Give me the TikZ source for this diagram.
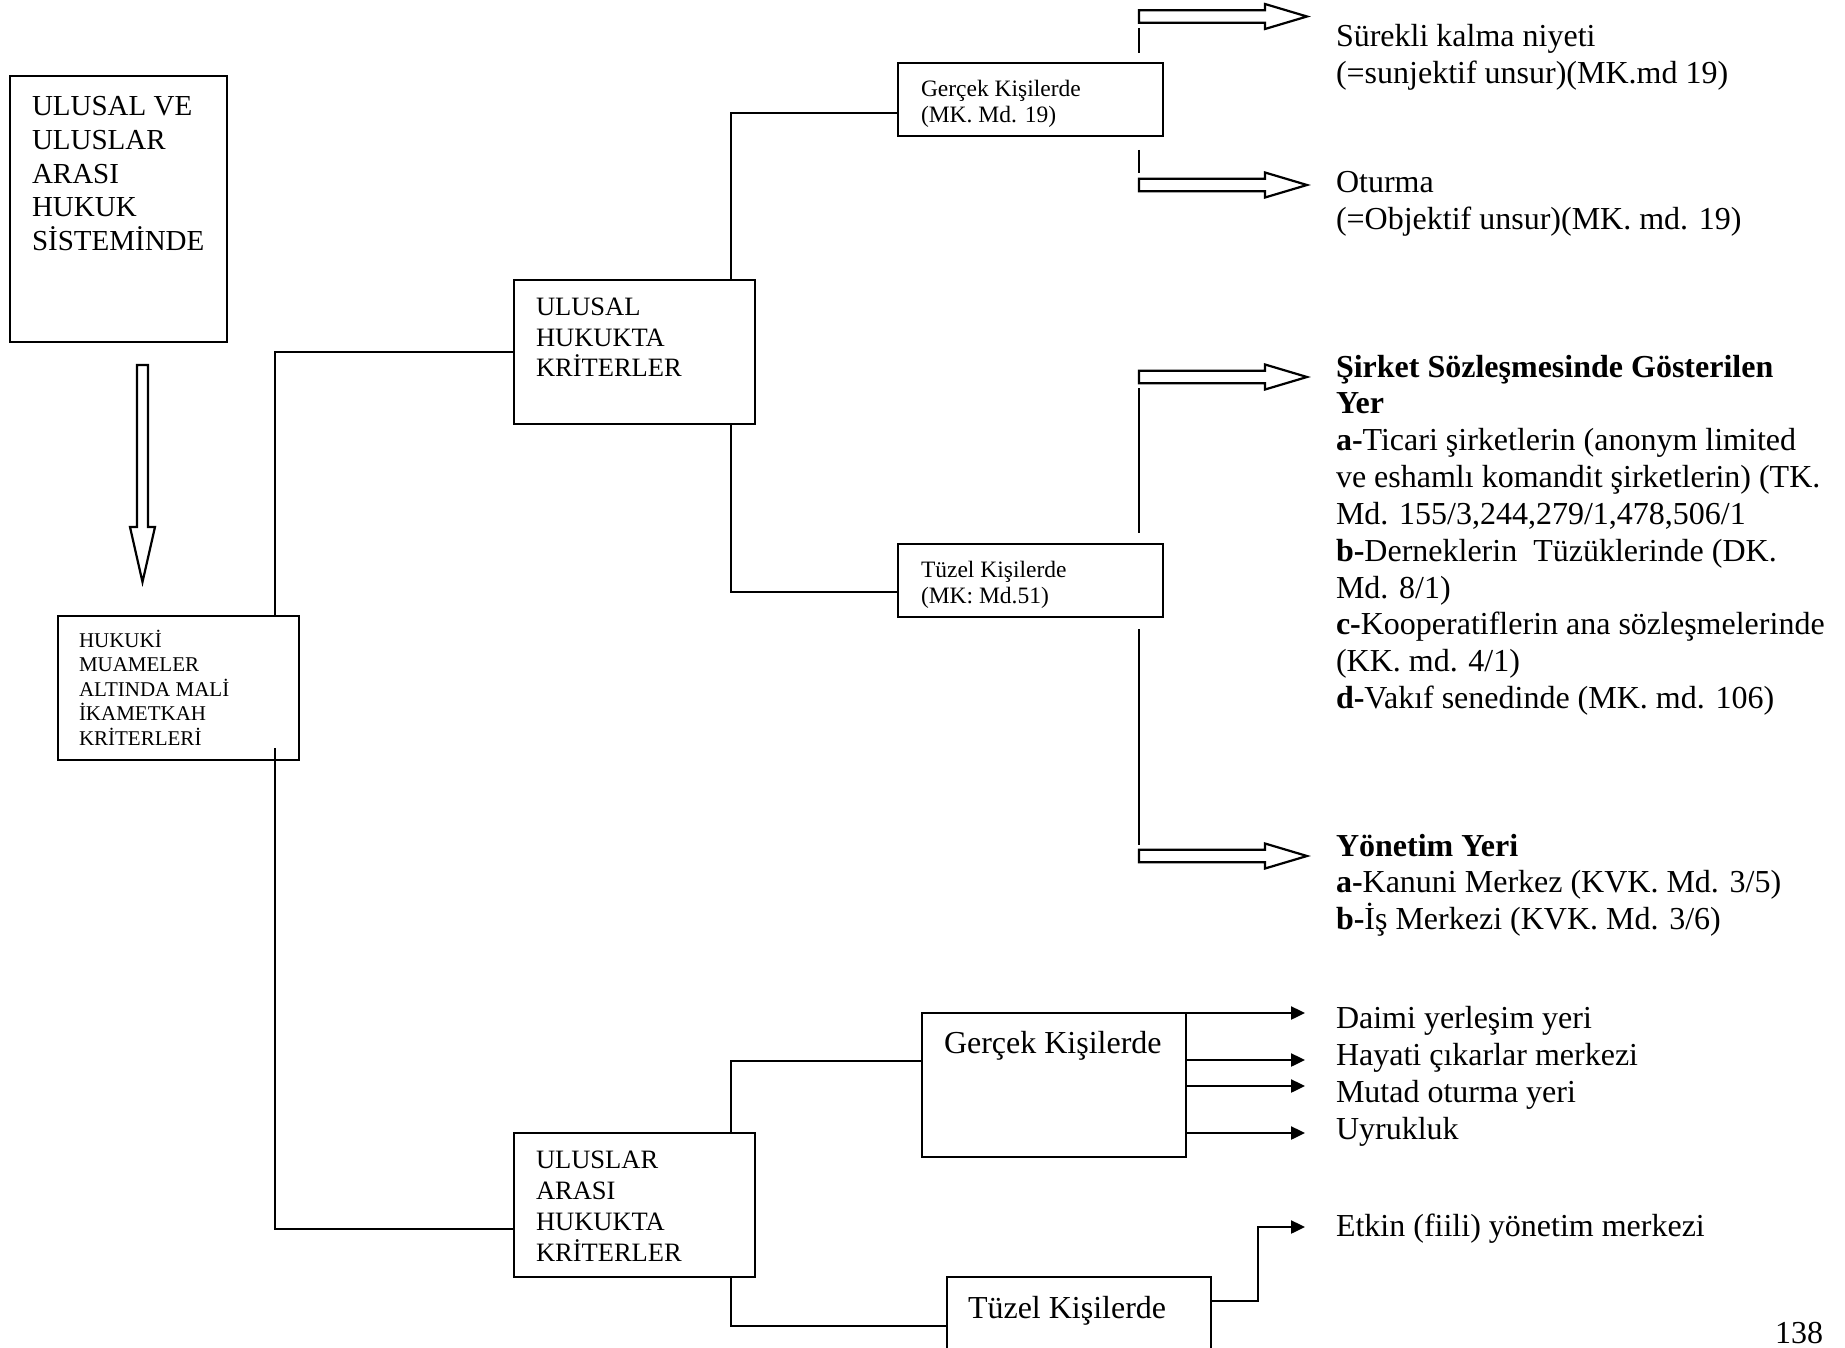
\documentclass[tikz,border=0pt]{standalone}
\usepackage{fontspec}
\setmainfont{Liberation Serif}
\usetikzlibrary{arrows.meta}
\begin{document}
\begin{tikzpicture}[x=1pt,y=-1pt,line width=2.4pt,
  box/.style={draw, rectangle, inner sep=0pt, outer sep=0pt},
  tx/.style={anchor=base west, align=left, inner sep=0pt, outer sep=0pt},
  fbig/.style={tx, font=\fontsize{32}{36.85}\selectfont},
  fone/.style={tx, font=\fontsize{29}{33.6}\selectfont},
  ftwo/.style={tx, font=\fontsize{21}{24.5}\selectfont},
  fthree/.style={tx, font=\fontsize{26.5}{31}\selectfont},
  fsmall/.style={tx, font=\fontsize{23.5}{26}\selectfont},
  arr/.style={-{Triangle[length=14pt,width=13pt]}},
  tick/.style={line width=2.2pt},
  hollowright/.pic={\draw[line width=2.2pt] (0,-6.3) -- (126,-6.3) -- (126,-12.5) -- (168,0) -- (126,12.5) -- (126,6.3) -- (0,6.3) -- cycle;},
  hollowdown/.pic={\draw[line width=2.2pt] (-5.5,0) -- (-5.5,162) -- (-12.5,162) -- (0,217) -- (12.5,162) -- (5.5,162) -- (5.5,0) -- cycle;}
]
\useasboundingbox (0,0) rectangle (1845,1348);

% boxes
\node[box, minimum width=217, minimum height=266] (b1) at (118.5,209) {};
\node[box, minimum width=241, minimum height=144] (hukuki) at (178.5,688) {};
\node[box, minimum width=241, minimum height=144] (ulusal) at (634.5,352) {};
\node[box, minimum width=241, minimum height=144] (uluslar) at (634.5,1205) {};
\node[box, minimum width=265, minimum height=73] (gtop) at (1030.5,99.5) {};
\node[box, minimum width=265, minimum height=73] (ttop) at (1030.5,580.5) {};
\node[box, minimum width=264, minimum height=144] (gbot) at (1054,1085) {};
\node[box, minimum width=264, minimum height=123] (tbot) at (1079,1338.5) {};

% box texts (anchored at the baseline of the last line)
\node[fone] (t1) at (32,250.4) {ULUSAL VE\\ULUSLAR\\ARASI\\HUKUK\\SİSTEMİNDE};
\node[ftwo] (t2) at (79,745) {HUKUKİ\\MUAMELER\\ALTINDA MALİ\\İKAMETKAH\\KRİTERLERİ};
\node[fthree] (t3) at (536,377) {ULUSAL\\HUKUKTA\\KRİTERLER};
\node[fthree] (t4) at (536,1261) {ULUSLAR\\ARASI\\HUKUKTA\\KRİTERLER};
\node[fsmall] (t5) at (921,123) {Gerçek Kişilerde\\(MK. Md. 19)};
\node[fsmall] (t6) at (921,603) {Tüzel Kişilerde\\(MK: Md.51)};
\node[fbig] (t7) at (944,1053) {Gerçek Kişilerde};
\node[fbig] (t8) at (968,1318) {Tüzel Kişilerde};

% right column texts
\node[fbig] (r1) at (1336,83.45) {Sürekli kalma niyeti\\(=sunjektif unsur)(MK.md 19)};
\node[fbig] (r2) at (1336,229.45) {Oturma\\(=Objektif unsur)(MK. md. 19)};
\node[fbig] (r3) at (1336,708.65) {\textbf{Şirket Sözleşmesinde Gösterilen}\\\textbf{Yer}\\\textbf{a-}Ticari şirketlerin (anonym limited\\ve eshamlı komandit şirketlerin) (TK.\\Md. 155/3,244,279/1,478,506/1\\\textbf{b-}Derneklerin\ \ Tüzüklerinde (DK.\\Md. 8/1)\\\textbf{c-}Kooperatiflerin ana sözleşmelerinde\\(KK. md. 4/1)\\\textbf{d-}Vakıf senedinde (MK. md. 106)};
\node[fbig] (r4) at (1336,929.7) {\textbf{Yönetim Yeri}\\\textbf{a-}Kanuni Merkez (KVK. Md. 3/5)\\\textbf{b-}İş Merkezi (KVK. Md. 3/6)};
\node[fbig] (r5) at (1336,1028) {Daimi yerleşim yeri};
\node[fbig] (r6) at (1336,1065) {Hayati çıkarlar merkezi};
\node[fbig] (r7) at (1336,1102) {Mutad oturma yeri};
\node[fbig] (r8) at (1336,1139) {Uyrukluk};
\node[fbig] (r9) at (1336,1236) {Etkin (fiili) yönetim merkezi};
\node[fbig] (pg) at (1775,1343) {138};

% connectors
\draw ([xshift=-24]hukuki.north east) |- (ulusal.west);
\draw ([xshift=-24,yshift=12]hukuki.south east) |- ([yshift=-24]uluslar.west);
\draw ([xshift=-24]ulusal.north east) |- ([yshift=-13.5]gtop.west);
\draw ([xshift=-24]ulusal.south east) |- ([yshift=-11.5]ttop.west);
\draw ([xshift=-24]uluslar.north east) |- ([yshift=24]gbot.west);
\draw ([xshift=-24]uluslar.south east) |- ([yshift=12.5]tbot.west);

% arrow ends
\coordinate (ea) at (1305,1013);
\coordinate (eb) at (1305,1060);
\coordinate (ec) at (1305,1086);
\coordinate (ed) at (1305,1133);
\coordinate (ee) at (1305,1227);
\coordinate (bend) at (1258,1301);
\draw[arr] (gbot.north east) -- (ea);
\draw[arr] (gbot.east |- eb) -- (eb);
\draw[arr] (gbot.east |- ec) -- (ec);
\draw[arr] (gbot.east |- ed) -- (ed);
\draw[arr] (tbot.east |- bend) -- (bend) |- (ee);

% hollow arrows
\pic at (142.5,365) {hollowdown};
\pic at (1139,16.5) {hollowright};
\pic at (1139,185) {hollowright};
\pic at (1139,377) {hollowright};
\pic at (1139,856) {hollowright};

% vertical ticks
\draw[tick] (1139,28) -- (1139,53);
\draw[tick] (1139,150) -- (1139,173);
\draw[tick] (1139,388) -- (1139,533);
\draw[tick] (1139,629) -- (1139,845);
\end{tikzpicture}
\end{document}
